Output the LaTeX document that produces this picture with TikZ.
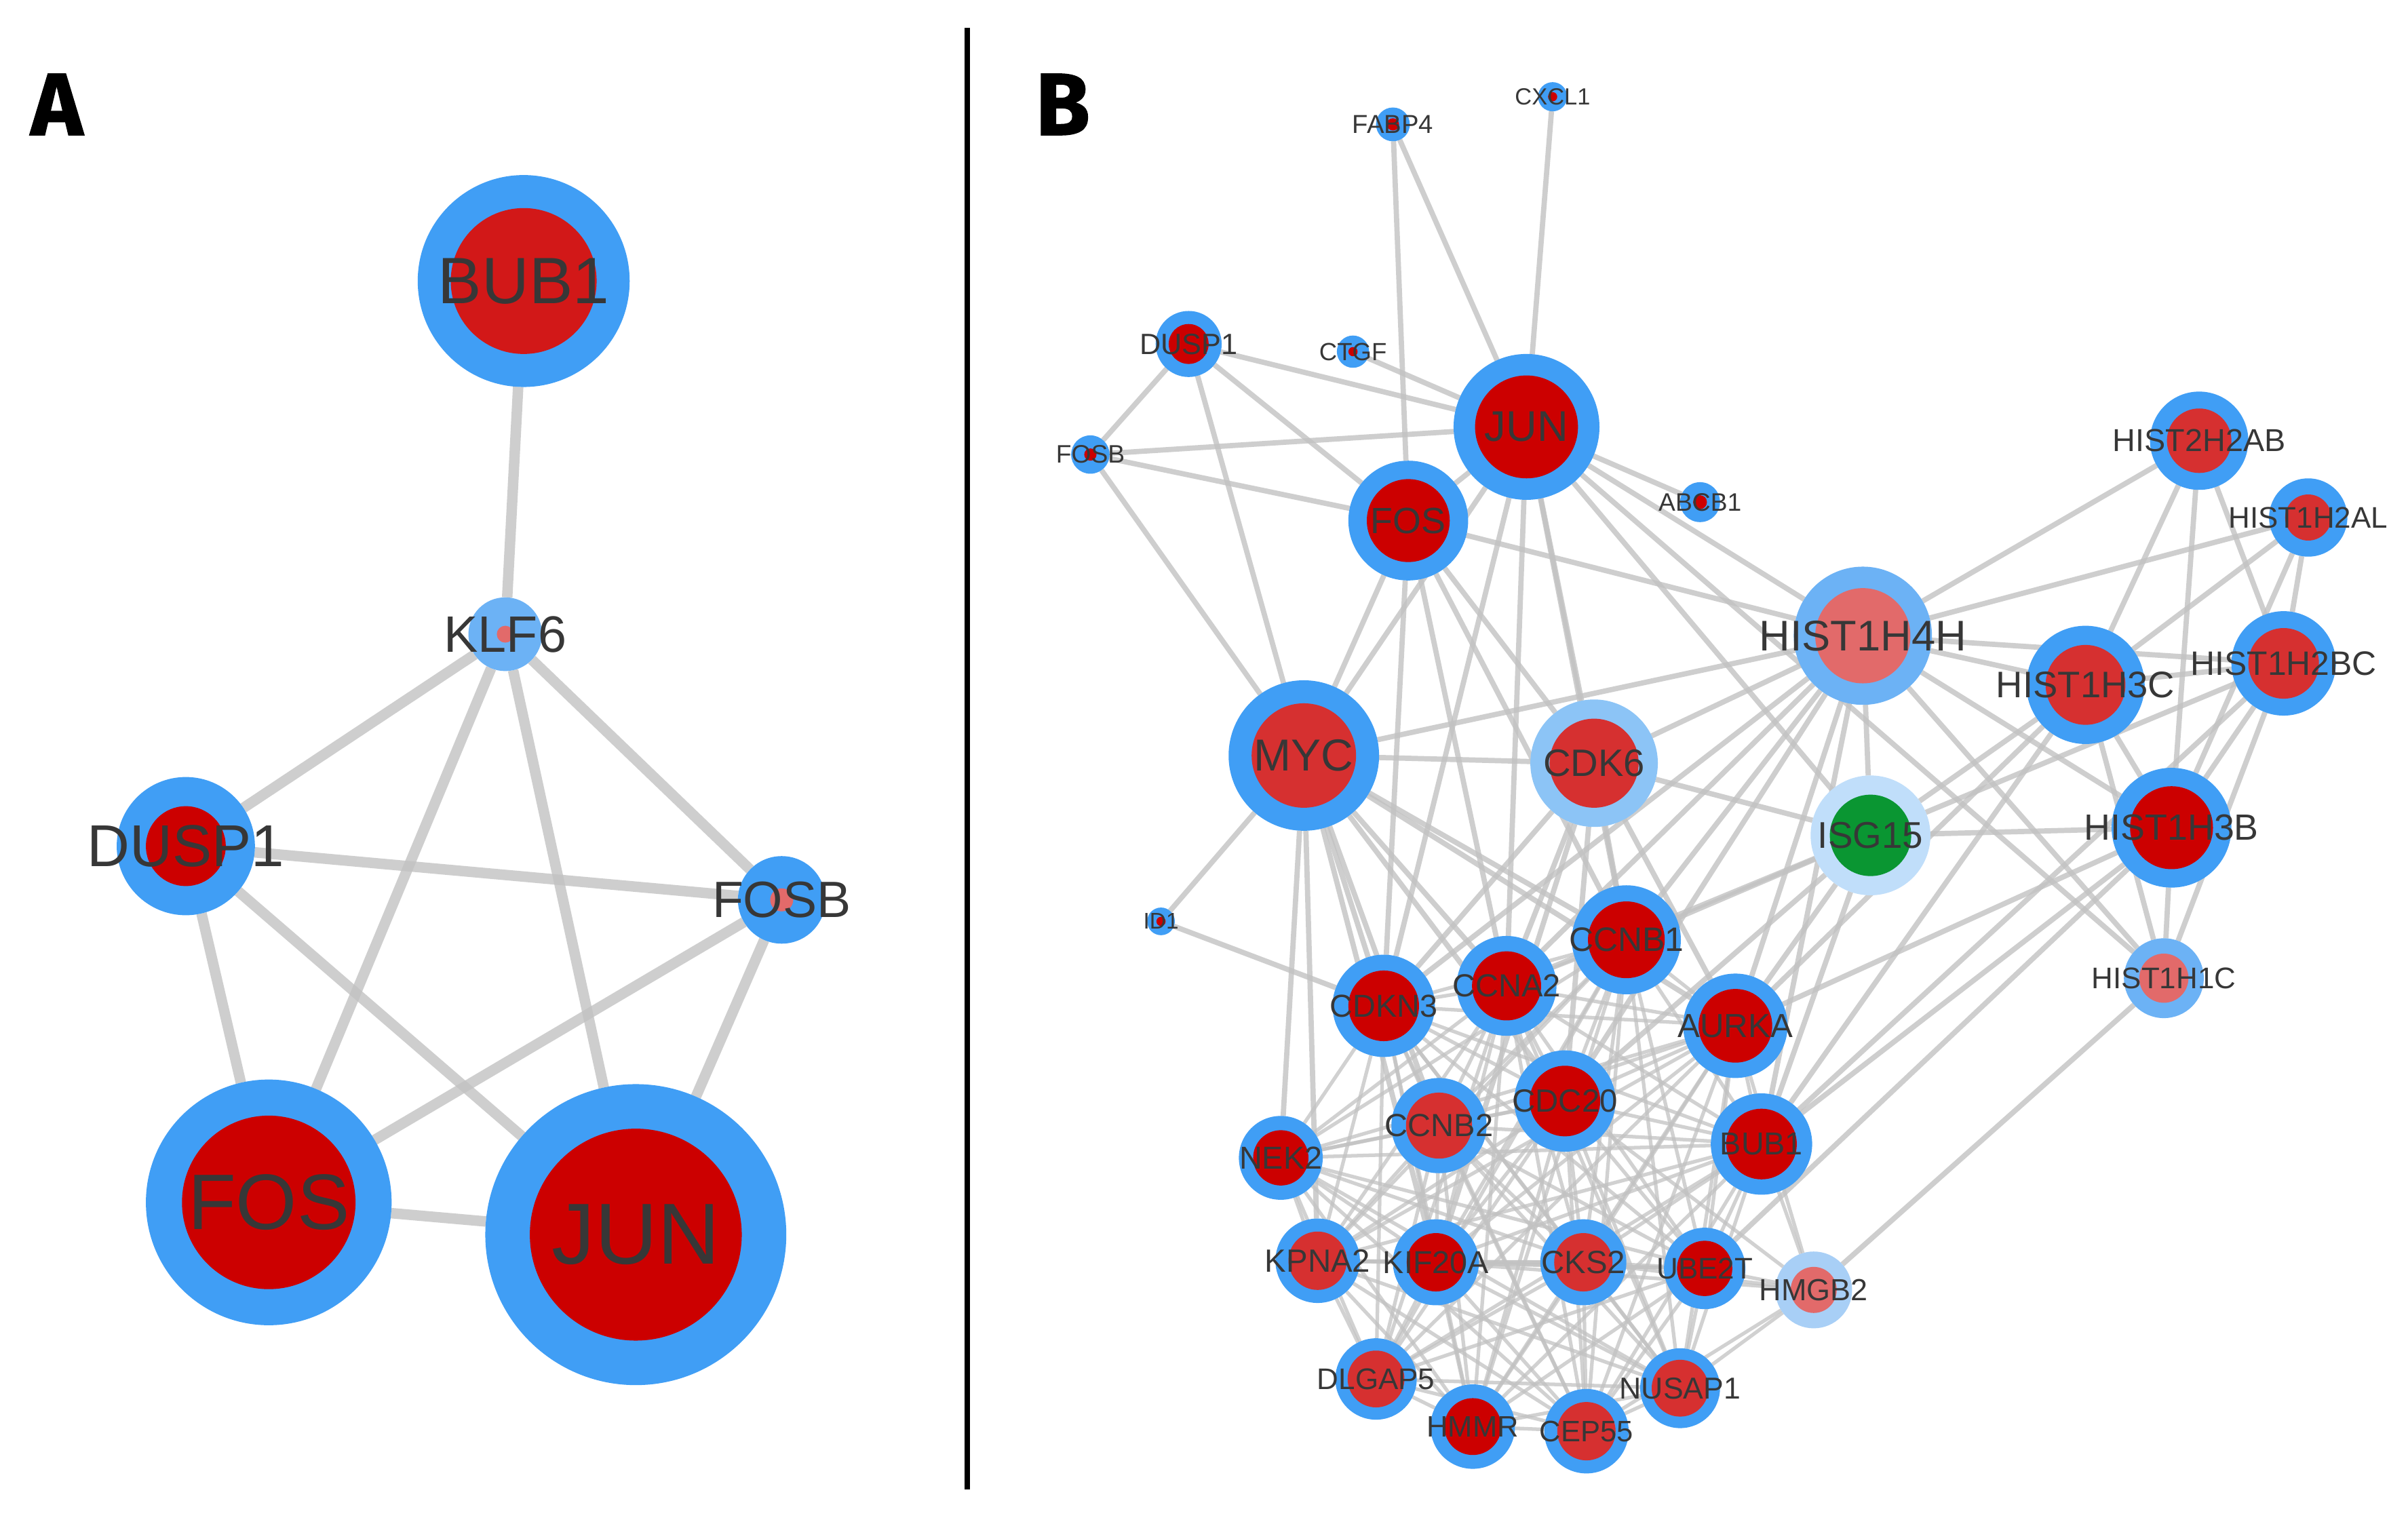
\documentclass[tikz,border=0pt]{standalone}
\usepackage{fontspec}
\setmainfont{Liberation Sans}
\newfontfamily\panelfont[FakeBold=1.2]{Fira Sans}
\pgfdeclarelayer{bg}
\pgfsetlayers{bg,main}
\definecolor{bl}{RGB}{64,158,245}
\definecolor{lbA}{RGB}{108,178,245}
\definecolor{lbB}{RGB}{140,196,246}
\definecolor{lbC}{RGB}{192,222,250}
\definecolor{lbD}{RGB}{168,207,246}
\definecolor{rA}{RGB}{204,0,0}
\definecolor{rB}{RGB}{214,48,48}
\definecolor{rC}{RGB}{210,24,24}
\definecolor{pk}{RGB}{226,106,106}
\definecolor{gr}{RGB}{10,150,50}
\definecolor{txt}{RGB}{55,55,55}
\definecolor{edgec}{RGB}{194,194,194}
\def\pxu{0.02264cm}
\tikzset{
  nodecirc/.style={circle, inner sep=0pt, outer sep=0pt, draw=none},
  lbl/.style={inner sep=0pt, text=txt},
  aedge/.style={draw=edgec, line width=4.4pt, opacity=0.8},
  bedge/.style={draw=edgec, line width=2.2pt, opacity=0.8},
  cedge/.style={draw=edgec, line width=1.5pt, opacity=0.75},
  panel/.style={inner sep=0pt, font=\panelfont\bfseries\fontsize{37pt}{37pt}\selectfont}
}
\newcommand{\gn}[8]{%
  \node[nodecirc, fill=#5, minimum size={2*#3*\pxu}] (#1) at (#2) {};
  \node[nodecirc, fill=#6, minimum size={2*#4*\pxu}] (#1-in) at (#1.center) {};
  \node[lbl, font=\fontsize{#8pt}{#8pt}\selectfont] (#1-lbl) at (#1.center) {#7};
}
\begin{document}
\begin{tikzpicture}[x=\pxu, y=-\pxu]
\begin{pgfonlayer}{bg}
\fill[white] (0,0) rectangle (1568,991);
\end{pgfonlayer}
\useasboundingbox (0,0) rectangle (1568,991);

% panel letters and divider
\node[panel] (lA) at (37,68) {A};
\node[panel] (lB) at (692,68) {B};
\coordinate (divtop) at (630,18);
\coordinate (divbot) at (630,970);
\draw[line width=2.2pt] (divtop) -- (divbot);

% ---------------- panel A ----------------
\gn{a-BUB1}{341,183}{69}{47.5}{bl}{rC}{BUB1}{27.5}
\gn{a-KLF6}{329,413}{24}{5.5}{lbA}{pk}{KLF6}{21.5}
\gn{a-DUSP1}{121,551}{45}{26}{bl}{rA}{DUSP1}{24.8}
\gn{a-FOSB}{509,586}{28.5}{7.5}{bl}{pk}{FOSB}{21.4}
\gn{a-FOS}{175,783}{80}{56.5}{bl}{rA}{FOS}{33}
\gn{a-JUN}{414,804}{98}{69}{bl}{rA}{JUN}{36.3}

\begin{pgfonlayer}{bg}
\foreach \s/\t in {BUB1/KLF6, KLF6/DUSP1, KLF6/FOSB, KLF6/FOS, KLF6/JUN,
  DUSP1/FOSB, DUSP1/FOS, DUSP1/JUN, FOSB/FOS, FOSB/JUN, FOS/JUN}
  \draw[aedge] (a-\s) -- (a-\t);
\end{pgfonlayer}

% ---------------- panel B ----------------
\gn{b-CXCL1}{1011,63}{9.5}{3}{bl}{rA}{CXCL1}{9.8}
\gn{b-FABP4}{907,81}{11}{4}{bl}{rA}{FABP4}{10.9}
\gn{b-DUSP1}{774,224}{21.5}{13}{bl}{rA}{DUSP1}{12.3}
\gn{b-CTGF}{881,229}{10.5}{3}{bl}{rA}{CTGF}{10.4}
\gn{b-FOSB}{710,296}{12.5}{4}{bl}{rA}{FOSB}{10.6}
\gn{b-JUN}{994,278}{47.5}{33.5}{bl}{rA}{JUN}{18}
\gn{b-ABCB1}{1107,327}{13}{4.5}{bl}{rA}{ABCB1}{10.6}
\gn{b-FOS}{917,339}{39}{27}{bl}{rA}{FOS}{15.3}
\gn{b-HIST2H2AB}{1432,287}{32}{21}{bl}{rB}{HIST2H2AB}{13.3}
\gn{b-HIST1H2AL}{1503,337}{25.5}{15}{bl}{rB}{HIST1H2AL}{12.5}
\gn{b-HIST1H4H}{1213,414}{45}{31}{lbA}{pk}{HIST1H4H}{18}
\gn{b-HIST1H3C}{1358,446}{38.5}{26}{bl}{rB}{HIST1H3C}{15.5}
\gn{b-HIST1H2BC}{1487,432}{34}{23}{bl}{rB}{HIST1H2BC}{14.2}
\gn{b-MYC}{849,492}{49}{34}{bl}{rB}{MYC}{18.8}
\gn{b-CDK6}{1038,497}{41.5}{29}{lbB}{rB}{CDK6}{16}
\gn{b-ISG15}{1218,544}{39}{26.5}{lbC}{gr}{ISG15}{15.6}
\gn{b-HIST1H3B}{1414,539}{39}{27}{bl}{rA}{HIST1H3B}{15.3}
\gn{b-HIST1H1C}{1409,637}{26}{16}{lbA}{pk}{HIST1H1C}{12.5}
\gn{b-ID1}{756,600}{9}{3}{bl}{rA}{ID1}{9.5}
\gn{b-CCNB1}{1059,612}{35.5}{25}{bl}{rA}{CCNB1}{14.2}
\gn{b-CCNA2}{981,642}{32.5}{22.5}{bl}{rA}{CCNA2}{13.4}
\gn{b-CDKN3}{901,655}{33.3}{23}{bl}{rA}{CDKN3}{13.3}
\gn{b-AURKA}{1130,668}{34}{24}{bl}{rA}{AURKA}{14}
\gn{b-CDC20}{1019,717}{33}{23}{bl}{rA}{CDC20}{13.5}
\gn{b-CCNB2}{937,733}{31}{21.5}{bl}{rB}{CCNB2}{13.4}
\gn{b-BUB1}{1147,745}{33}{23}{bl}{rA}{BUB1}{13.3}
\gn{b-NEK2}{834,754}{27.3}{18}{bl}{rA}{NEK2}{13.3}
\gn{b-KPNA2}{858,821}{27.5}{19}{bl}{rB}{KPNA2}{13.5}
\gn{b-KIF20A}{935,822}{28}{19}{bl}{rA}{KIF20A}{13.3}
\gn{b-CKS2}{1031,822}{28}{19}{bl}{rB}{CKS2}{13.5}
\gn{b-UBE2T}{1110,826}{26.5}{18}{bl}{rA}{UBE2T}{12.5}
\gn{b-HMGB2}{1181,840}{25}{15}{lbD}{pk}{HMGB2}{12.8}
\gn{b-DLGAP5}{896,898}{26.5}{18.5}{bl}{rB}{DLGAP5}{12.5}
\gn{b-NUSAP1}{1094,904}{26}{18.5}{bl}{rB}{NUSAP1}{12.7}
\gn{b-HMMR}{959,929}{27.5}{18.5}{bl}{rA}{HMMR}{12.4}
\gn{b-CEP55}{1033,932}{27.5}{19}{bl}{rB}{CEP55}{12.4}

\def\clist{CCNB1,CCNA2,CDKN3,AURKA,CDC20,CCNB2,BUB1,NEK2,KPNA2,KIF20A,CKS2,UBE2T,DLGAP5,NUSAP1,HMMR,CEP55}
\begin{pgfonlayer}{bg}
\foreach \s/\t in {FABP4/FOS, FABP4/JUN, CXCL1/JUN, DUSP1/JUN, DUSP1/FOSB, DUSP1/FOS,
  DUSP1/MYC, CTGF/JUN, FOSB/JUN, FOSB/FOS, FOSB/MYC, JUN/FOS, JUN/ABCB1, JUN/HIST1H4H,
  JUN/MYC, JUN/CDK6, JUN/CCNB1, JUN/CCNA2, JUN/CDKN3, JUN/ISG15, JUN/HIST1H1C,
  FOS/MYC, FOS/CDK6, FOS/HIST1H4H, FOS/CDKN3, FOS/CCNB1, FOS/CCNA2,
  MYC/ID1, MYC/CDK6, MYC/HIST1H4H, MYC/CDKN3, MYC/NEK2, MYC/KPNA2, MYC/CCNA2, MYC/CCNB1,
  MYC/CCNB2, MYC/AURKA, MYC/CDC20, MYC/KIF20A, ID1/CDKN3,
  CDK6/HIST1H4H, CDK6/ISG15, CDK6/CCNB1, CDK6/CCNA2, CDK6/CDKN3, CDK6/CDC20, CDK6/AURKA, CDK6/KIF20A,
  HIST1H4H/ISG15, HIST1H4H/HIST2H2AB, HIST1H4H/HIST1H2AL, HIST1H4H/HIST1H3C, HIST1H4H/HIST1H2BC,
  HIST1H4H/HIST1H3B, HIST1H4H/HIST1H1C, HIST1H4H/CCNB1, HIST1H4H/AURKA, HIST1H4H/BUB1,
  HIST1H4H/CDC20, HIST1H4H/CCNA2, HIST1H4H/CDKN3,
  ISG15/HIST1H3B, ISG15/HIST1H3C, ISG15/HIST1H2BC, ISG15/CCNB1, ISG15/AURKA, ISG15/BUB1,
  ISG15/CDC20, ISG15/CCNA2,
  HIST1H3C/HIST2H2AB, HIST1H3C/HIST1H2AL, HIST1H3C/HIST1H2BC, HIST1H3C/HIST1H3B,
  HIST1H3C/AURKA, HIST1H3C/BUB1, HIST1H3C/HIST1H1C,
  HIST2H2AB/HIST1H3B, HIST2H2AB/HIST1H2BC, HIST1H2AL/HIST1H2BC, HIST1H2AL/HIST1H3B,
  HIST1H2BC/HIST1H3B, HIST1H2BC/HIST1H1C, HIST1H2BC/BUB1, HIST1H3B/HIST1H1C,
  HIST1H3B/BUB1, HIST1H3B/AURKA, HIST1H3B/UBE2T, HIST1H1C/HMGB2}
  \draw[bedge] (b-\s) -- (b-\t);
\foreach \a [count=\i] in \clist {
  \foreach \b [count=\j] in \clist {
    \ifnum\j>\i \draw[cedge] (b-\a) -- (b-\b); \fi
  }
}
\foreach \t in {UBE2T, BUB1, NUSAP1, CKS2, CEP55, AURKA, CDC20, KIF20A}
  \draw[cedge] (b-HMGB2) -- (b-\t);
\end{pgfonlayer}
\end{tikzpicture}
\end{document}
